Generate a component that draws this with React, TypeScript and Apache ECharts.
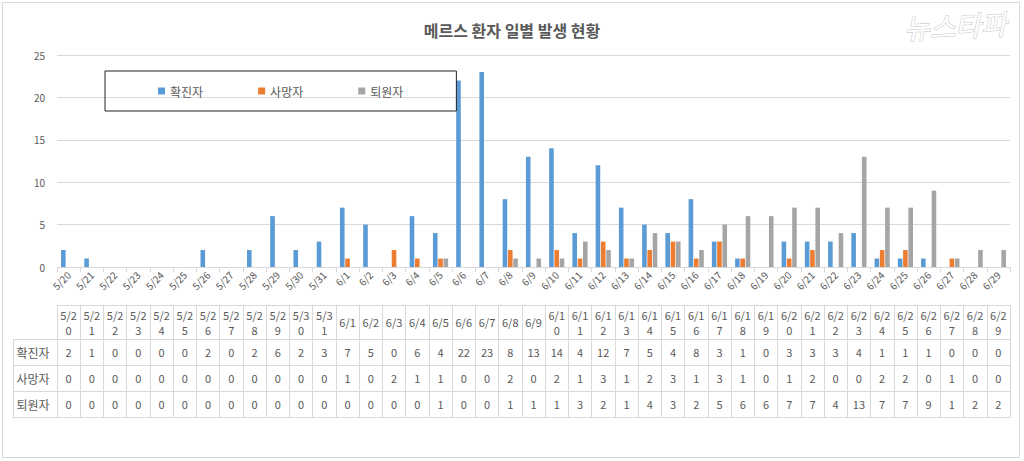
import React, { useEffect, useRef } from "react";
import * as echarts from "echarts";

const dates = ["5/20","5/21","5/22","5/23","5/24","5/25","5/26","5/27","5/28","5/29","5/30","5/31","6/1","6/2","6/3","6/4","6/5","6/6","6/7","6/8","6/9","6/10","6/11","6/12","6/13","6/14","6/15","6/16","6/17","6/18","6/19","6/20","6/21","6/22","6/23","6/24","6/25","6/26","6/27","6/28","6/29"];
const confirmed = [2,1,0,0,0,0,2,0,2,6,2,3,7,5,0,6,4,22,23,8,13,14,4,12,7,5,4,8,3,1,0,3,3,3,4,1,1,1,0,0,0];
const deaths = [0,0,0,0,0,0,0,0,0,0,0,0,1,0,2,1,1,0,0,2,0,2,1,3,1,2,3,1,3,1,0,1,2,0,0,2,2,0,1,0,0];
const discharged = [0,0,0,0,0,0,0,0,0,0,0,0,0,0,0,0,1,0,0,1,1,1,3,2,1,4,3,2,5,6,6,7,7,4,13,7,7,9,1,2,2];
const seriesNames = ["확진자", "사망자", "퇴원자"];
const seriesValues = [confirmed, deaths, discharged];
const colors = ["#5B9BD5", "#ED7D31", "#A5A5A5"];
const title = "메르스 환자 일별 발생 현황";
const yMax = 25;
const yInterval = 5;

const FONT = "'Noto Sans CJK KR', 'Noto Sans', sans-serif";
const TXT = "#595959";
const LINE = "#d9d9d9";

export default function App() {
  const ref = useRef<HTMLDivElement>(null);
  useEffect(() => {
    if (!ref.current) return;
    const chart = echarts.init(ref.current, undefined, { renderer: "svg" });
    const gridBottomY = 267;
    const rowTop = [339, 365, 391];
    const headerTop = 305;
    const rowH = 26;

    const tableAxis = (offset: number, tickLen: number, margin: number, fmt: (v: string, i: number) => string, showLabel = true, showTick = true) => ({
      type: "category",
      gridIndex: 0,
      position: "bottom",
      offset,
      data: dates,
      axisLine: { show: true, lineStyle: { color: LINE, width: 1 } },
      axisTick: { show: showTick, length: tickLen, interval: 0, alignWithLabel: false, lineStyle: { color: LINE, width: 1 } },
      axisLabel: {
        show: showLabel,
        interval: 0,
        margin,
        verticalAlign: "middle",
        align: "center",
        color: TXT,
        fontSize: 11,
        lineHeight: 15,
        fontFamily: FONT,
        formatter: fmt,
      },
      splitLine: { show: false },
    });

    const xAxes: any[] = [
      {
        type: "category",
        data: dates,
        axisLine: { lineStyle: { color: LINE } },
        axisTick: { show: true, length: 5, interval: 0, lineStyle: { color: LINE } },
        axisLabel: { interval: 0, rotate: 45, margin: 6, color: TXT, fontSize: 10, fontFamily: FONT },
      },
      tableAxis(headerTop - gridBottomY, rowTop[0] - headerTop, (rowTop[0] - headerTop) / 2, (v: string) => (v.length > 3 ? v.slice(0, 3) + "\n" + v.slice(3) : v)),
    ];
    seriesValues.forEach((vals, k) => {
      xAxes.push(tableAxis(rowTop[k] - gridBottomY, rowH, rowH / 2, (_v: string, i: number) => String(vals[i])));
    });
    xAxes.push(tableAxis(rowTop[2] + rowH - gridBottomY, 0, 0, () => "", false, false));

    const graphic: any[] = [
      { type: "rect", shape: { x: 2.5, y: 2.5, width: 1017, height: 455 }, style: { fill: "none", stroke: LINE, lineWidth: 1 }, silent: true },
      { type: "line", shape: { x1: 13.5, y1: rowTop[0], x2: 13.5, y2: rowTop[2] + rowH }, style: { stroke: LINE, lineWidth: 1 } },
    ];
    [...rowTop, rowTop[2] + rowH].forEach((y) => {
      graphic.push({ type: "line", shape: { x1: 13, y1: y + 0.5, x2: 57, y2: y + 0.5 }, style: { stroke: LINE, lineWidth: 1 } });
    });
    seriesNames.forEach((n, k) => {
      graphic.push({
        type: "text",
        x: 33,
        y: rowTop[k] + rowH / 2,
        style: { text: n, fill: TXT, font: `12px ${FONT}`, textAlign: "center", textVerticalAlign: "middle" },
      });
    });
    graphic.push({
      type: "text",
      x: 955,
      y: 25,
      rotation: 0.05,
      style: {
        text: "뉴스타파",
        fill: "#ffffff",
        stroke: "#c4c4c4",
        lineWidth: 1,
        font: `italic 28px ${FONT}`,
        textAlign: "center",
        textVerticalAlign: "middle",
      },
    });

    chart.setOption({
      animation: false,
      backgroundColor: "#ffffff",
      title: {
        text: title,
        left: "center",
        top: 17,
        textStyle: { color: TXT, fontSize: 16, fontWeight: "bold", fontFamily: FONT },
      },
      legend: {
        left: 105,
        top: 71,
        data: seriesNames,
        icon: "rect",
        itemWidth: 7,
        itemHeight: 7,
        itemGap: 55,
        padding: [14, 53, 14, 53],
        borderColor: "#222",
        borderWidth: 1,
        textStyle: { color: TXT, fontSize: 12, fontFamily: FONT },
      },
      grid: { left: 57, right: 14, top: 55, bottom: 461 - gridBottomY, outerBoundsMode: "none" },
      xAxis: xAxes,
      yAxis: {
        type: "value",
        min: 0,
        max: yMax,
        interval: yInterval,
        axisLine: { show: false },
        axisTick: { show: false },
        axisLabel: { color: TXT, fontSize: 10, margin: 12, fontFamily: FONT },
        splitLine: { lineStyle: { color: LINE } },
      },
      series: seriesValues.map((vals, k) => ({
        name: seriesNames[k],
        type: "bar",
        xAxisIndex: 0,
        data: vals,
        barWidth: 4.6,
        barGap: "15%",
        itemStyle: { color: colors[k] },
      })),
      graphic,
    });
    return () => chart.dispose();
  }, []);
  return <div ref={ref} style={{ position: "fixed", left: 0, top: 0, width: 1024, height: 461 }} />;
}
